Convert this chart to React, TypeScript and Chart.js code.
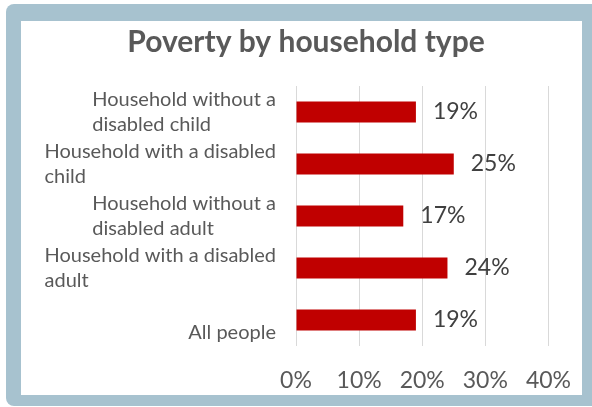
import React, { useEffect, useRef } from "react";
import { Chart, registerables } from "chart.js";

Chart.register(...registerables);

const chartTitle = "Poverty by household type";
const categories: string[][] = [
  ["Household without a", "disabled child"],
  ["Household with a disabled", "child"],
  ["Household without a", "disabled adult"],
  ["Household with a disabled", "adult"],
  ["All people"],
];
const values = [19, 25, 17, 24, 19];
const xMin = 0;
const xMax = 40;
const xStep = 10;

const FONT = "Lato, 'Open Sans', sans-serif";
const TEXT = "#595959";
const BAR = "#c00000";

const titlePlugin = {
  id: "customTitle",
  afterDraw(chart: any) {
    const ctx = chart.ctx;
    ctx.save();
    ctx.font = `bold 30px ${FONT}`;
    ctx.fillStyle = TEXT;
    ctx.textAlign = "center";
    ctx.textBaseline = "middle";
    ctx.fillText(chartTitle, chart.width / 2 + 10, 42);
    ctx.restore();
  },
};

const catLabelPlugin = {
  id: "catLabels",
  afterDraw(chart: any) {
    const ctx = chart.ctx;
    const y = chart.scales.y;
    const right = chart.chartArea.left - 20;
    const lh = 25;
    ctx.save();
    ctx.font = `20px ${FONT}`;
    ctx.fillStyle = TEXT;
    ctx.textAlign = "left";
    ctx.textBaseline = "middle";
    categories.forEach((lines, i) => {
      const cy = y.getPixelForValue(i);
      const w = Math.max(...lines.map((l) => ctx.measureText(l).width));
      const left = right - w;
      const slots = Math.max(lines.length, 2);
      const start = slots - lines.length;
      const top = cy - (slots * lh) / 2 + lh / 2;
      lines.forEach((l, j) => {
        ctx.fillText(l, left, top + (start + j) * lh);
      });
    });
    ctx.restore();
  },
};

const dataLabelPlugin = {
  id: "dataLabels",
  afterDatasetsDraw(chart: any) {
    const ctx = chart.ctx;
    const meta = chart.getDatasetMeta(0);
    ctx.save();
    ctx.font = `23px ${FONT}`;
    ctx.fillStyle = "#404040";
    ctx.textAlign = "left";
    ctx.textBaseline = "middle";
    meta.data.forEach((bar: any, i: number) => {
      ctx.fillText(values[i] + "%", bar.x + 17, bar.y);
    });
    ctx.restore();
  },
};

export default function App() {
  const ref = useRef<HTMLCanvasElement | null>(null);
  useEffect(() => {
    let chart: Chart | null = null;
    let cancelled = false;
    const make = () => {
      if (cancelled || !ref.current) return;
      chart = new Chart(ref.current, {
        type: "bar",
        data: {
          labels: categories.map((c) => c.join(" ")),
          datasets: [
            {
              data: values,
              backgroundColor: BAR,
              borderWidth: 0,
              barPercentage: 0.4,
              categoryPercentage: 1,
            },
          ],
        },
        options: {
          indexAxis: "y",
          animation: false,
          responsive: false,
          maintainAspectRatio: false,
          devicePixelRatio: 1,
          layout: { padding: { left: 296, right: 41, top: 86, bottom: 13 } },
          plugins: {
            legend: { display: false },
            title: { display: false },
            tooltip: { enabled: false },
          },
          scales: {
            x: {
              min: xMin,
              max: xMax,
              afterFit: (scale: any) => {
                scale.height = 48;
              },
              ticks: {
                stepSize: xStep,
                callback: (v: any) => v + "%",
                color: TEXT,
                font: { family: FONT, size: 23 },
                padding: 21,
                maxRotation: 0,
                minRotation: 0,
                autoSkip: false,
              },
              grid: { color: "#d9d9d9", lineWidth: 1, drawTicks: false },
              border: { display: false },
            },
            y: { display: false },
          },
        },
        plugins: [titlePlugin, catLabelPlugin, dataLabelPlugin],
      } as any);
    };
    const fonts = (document as any).fonts;
    if (fonts && fonts.load) {
      Promise.all([
        fonts.load(`20px Lato`),
        fonts.load(`bold 30px Lato`),
      ])
        .catch(() => {})
        .then(make);
    } else make();
    return () => {
      cancelled = true;
      if (chart) chart.destroy();
    };
  }, []);

  return (
    <div style={{ position: "fixed", left: 0, top: 0, width: 592, height: 407, background: "#ffffff", overflow: "hidden" }}>
      <div style={{ position: "absolute", left: 6, top: 4, width: 600, height: 402, background: "#a7c2cf", borderRadius: 8 }} />
      <div style={{ position: "absolute", left: 21, top: 21, width: 561, height: 374, background: "#ffffff" }} />
      <canvas
        ref={ref}
        width={592}
        height={407}
        style={{ position: "absolute", left: 0, top: 0, width: 592, height: 407, display: "block" }}
      />
    </div>
  );
}
